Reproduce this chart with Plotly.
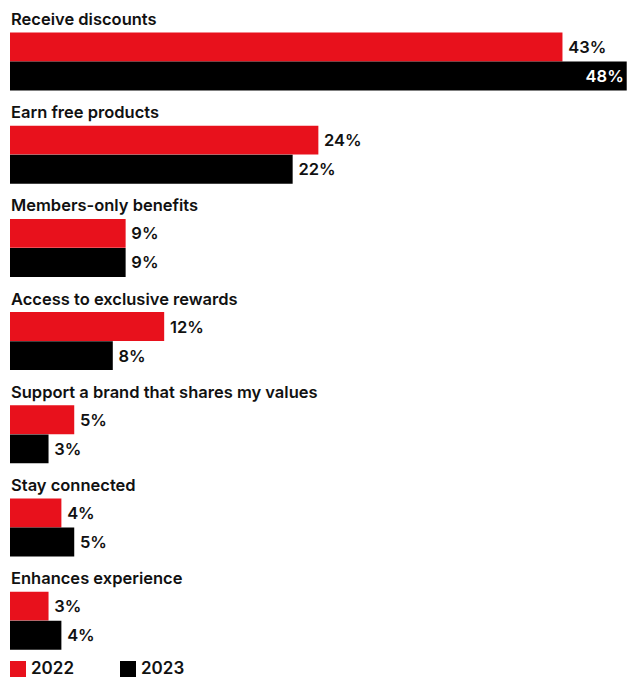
import plotly.graph_objects as go

categories = [
    "Receive discounts",
    "Earn free products",
    "Members-only benefits",
    "Access to exclusive rewards",
    "Support a brand that shares my values",
    "Stay connected",
    "Enhances experience",
]
years = ["2022", "2023"]
values_2022 = [43, 24, 9, 12, 5, 4, 3]
values_2023 = [48, 22, 9, 8, 3, 5, 4]
colors = {"2022": "#e8111c", "2023": "#000000"}

FONT = "Inter"
W, H = 628, 677
L = 10
pitch = 93.2          # px per group
label_px0 = 19        # pixel centre of first label
offsets = {"2022": 0.30, "2023": 0.612}
bar_w = 0.31
FS = 16.5

y_top = -label_px0 / pitch
y_bot = (H - label_px0) / pitch

fig = go.Figure()
series = {"2022": values_2022, "2023": values_2023}
vmax = max(values_2022 + values_2023)
for yr in years:
    vals = series[yr]
    pos = ["inside" if v == vmax else "outside" for v in vals]
    txt = [f"{v}%" if p == "inside" else f"\u2009{v}%" for v, p in zip(vals, pos)]
    fig.add_trace(go.Bar(
        x=vals,
        y=[i + offsets[yr] for i in range(len(categories))],
        orientation="h",
        width=bar_w,
        marker=dict(color=colors[yr], line=dict(width=0)),
        text=txt,
        textposition=pos,
        insidetextanchor="end",
        textangle=0,
        constraintext="none",
        insidetextfont=dict(color="white", size=FS, family=FONT, weight=600),
        outsidetextfont=dict(color="#111111", size=FS, family=FONT, weight=600),
        cliponaxis=False,
        name=yr,
        showlegend=False,
        hoverinfo="skip",
    ))

for i, c in enumerate(categories):
    fig.add_annotation(
        x=0, y=i, xref="x", yref="y", text=c, showarrow=False,
        xanchor="left", yanchor="middle", xshift=-1,
        font=dict(size=FS, family=FONT, color="#111111", weight=600),
    )

# legend (manual)
pw = W - L
leg = [(10, 31), (120, 141)]
for yr, (sx, tx) in zip(years, leg):
    fig.add_shape(type="rect", xref="paper", yref="paper",
                  x0=(sx - L) / pw, x1=(sx + 16 - L) / pw,
                  y0=-0.01, y1=(H - 661) / H,
                  fillcolor=colors[yr], line=dict(width=0))
    fig.add_annotation(x=(tx - L) / pw, y=0, xref="paper", yref="paper",
                       text=yr, showarrow=False, xanchor="left", yanchor="bottom",
                       xshift=-2, yshift=-3,
                       font=dict(size=17, family=FONT, color="#111111", weight=600))

fig.update_layout(
    width=W, height=H,
    margin=dict(l=L, r=0, t=0, b=0),
    paper_bgcolor="white", plot_bgcolor="white",
    barmode="overlay",
    xaxis=dict(range=[0, 48.1], visible=False, fixedrange=True),
    yaxis=dict(range=[y_bot, y_top], visible=False, fixedrange=True),
    font=dict(family=FONT),
)

fig.write_html("out.html")
